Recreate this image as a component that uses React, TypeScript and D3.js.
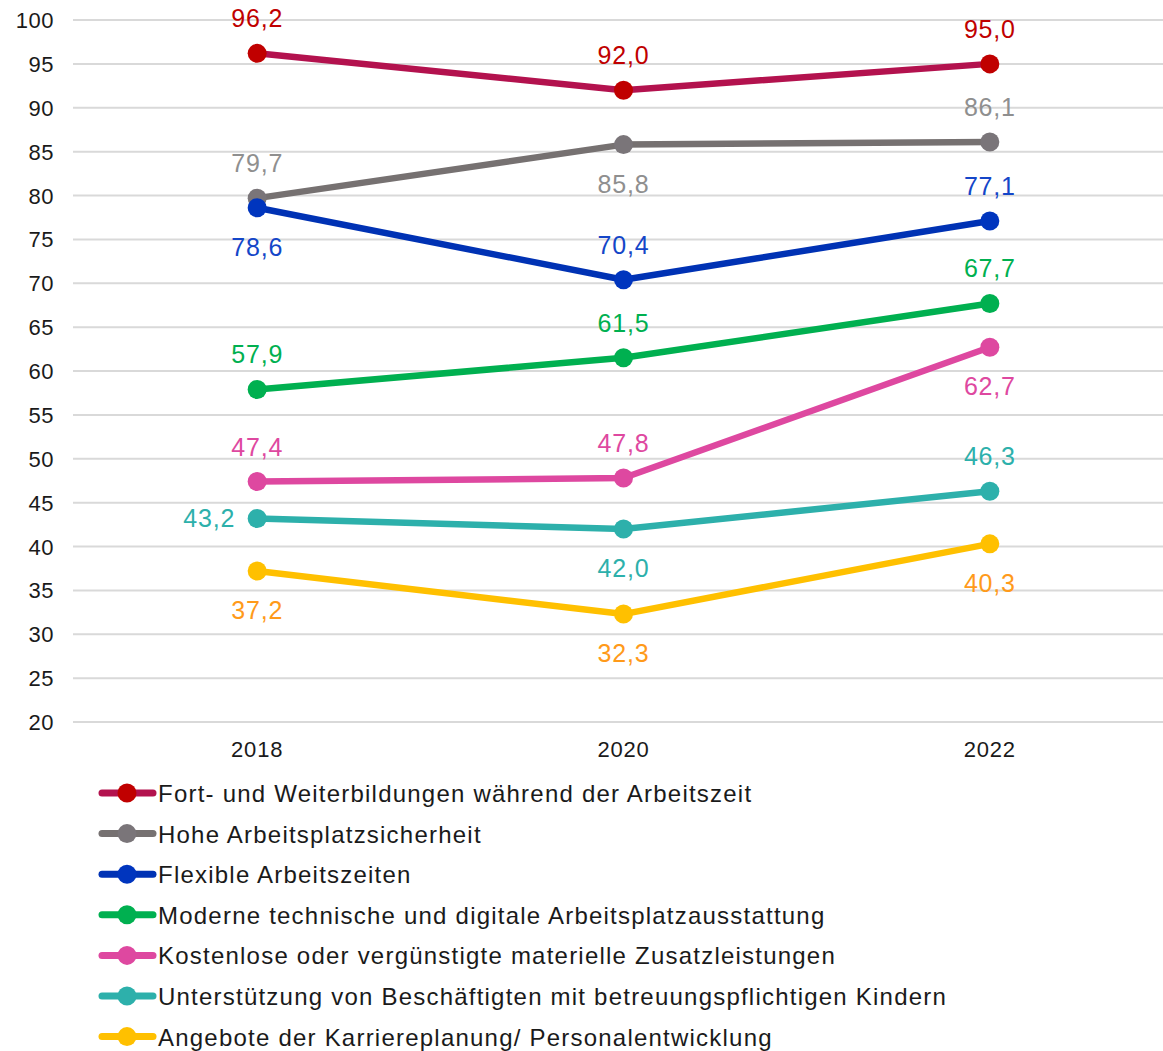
import React from "react";
import * as d3 from "d3";

const years = ["2018", "2020", "2022"];
const yTicks = [20, 25, 30, 35, 40, 45, 50, 55, 60, 65, 70, 75, 80, 85, 90, 95, 100];

const seriesNames = [
  "Fort- und Weiterbildungen während der Arbeitszeit",
  "Hohe Arbeitsplatzsicherheit",
  "Flexible Arbeitszeiten",
  "Moderne technische und digitale Arbeitsplatzausstattung",
  "Kostenlose oder vergünstigte materielle Zusatzleistungen",
  "Unterstützung von Beschäftigten mit betreuungspflichtigen Kindern",
  "Angebote der Karriereplanung/ Personalentwicklung",
];

const fortbildung = [96.2, 92.0, 95.0];
const sicherheit = [79.7, 85.8, 86.1];
const flexibel = [78.6, 70.4, 77.1];
const ausstattung = [57.9, 61.5, 67.7];
const zusatz = [47.4, 47.8, 62.7];
const kinder = [43.2, 42.0, 46.3];
const karriere = [37.2, 32.3, 40.3];

// label placement per point: a = above, b = below, l = left
const placements = [
  ["a", "a", "a"],
  ["a", "b", "a"],
  ["b", "a", "a"],
  ["a", "a", "a"],
  ["a", "a", "b"],
  ["l", "b", "a"],
  ["b", "b", "b"],
];

const lineColors = ["#B3124E", "#767171", "#0032B4", "#00B050", "#DE48A0", "#2DB0AB", "#FFC000"];
const dotColors = ["#C00000", "#7A7579", "#0035BE", "#00B050", "#DE48A0", "#2DB0AB", "#FFC000"];
const labelColors = ["#C00000", "#8F8F8F", "#1446C8", "#00B050", "#DE48A0", "#2DB0AB", "#FF9A1A"];

const values = [fortbildung, sicherheit, flexibel, ausstattung, zusatz, kinder, karriere];

const W = 1163;
const H = 1051;
const font = "'Liberation Sans', Arial, sans-serif";

export default function App() {
  const x = d3.scalePoint<string>().domain(years).range([74, 1173]).padding(0.5);
  const y = d3.scaleLinear().domain([20, 100]).range([722, 20]);
  const line = d3
    .line<number>()
    .x((_, i) => x(years[i]) as number)
    .y((d) => y(d));
  const fmt = (v: number) => v.toFixed(1).replace(".", ",");

  return (
    <svg
      width={W}
      height={H}
      style={{ position: "absolute", left: 0, top: 0, background: "#fff" }}
      fontFamily={font}
    >
      {yTicks.map((t) => (
        <g key={t}>
          <line x1={73} x2={W} y1={y(t)} y2={y(t)} stroke="#D9D9D9" strokeWidth={2} />
          <text x={54} y={y(t) + 8} textAnchor="end" fontSize={22} letterSpacing={0.5} fill="#1a1a1a">
            {t}
          </text>
        </g>
      ))}
      {years.map((yr) => (
        <text key={yr} x={x(yr)} y={757} textAnchor="middle" fontSize={22} letterSpacing={0.8} fill="#1a1a1a">
          {yr}
        </text>
      ))}
      {values.map((vals, s) => (
        <g key={s}>
          <path d={line(vals) || ""} fill="none" stroke={lineColors[s]} strokeWidth={6.5} strokeLinejoin="round" />
          {vals.map((v, i) => (
            <circle key={i} cx={x(years[i])} cy={y(v)} r={9.5} fill={dotColors[s]} />
          ))}
        </g>
      ))}
      {values.map((vals, s) => (
        <g key={"l" + s}>
          {vals.map((v, i) => {
            const p = placements[s][i];
            const cx = x(years[i]) as number;
            const cy = y(v);
            if (p === "l") {
              return (
                <text key={i} x={cx - 22} y={cy + 9} textAnchor="end" fontSize={25} letterSpacing={0.8} fill={labelColors[s]}>
                  {fmt(v)}
                </text>
              );
            }
            return (
              <text
                key={i}
                x={cx}
                y={p === "a" ? cy - 26 : cy + 48}
                textAnchor="middle"
                fontSize={25}
                letterSpacing={0.8}
                fill={labelColors[s]}
              >
                {fmt(v)}
              </text>
            );
          })}
        </g>
      ))}
      {seriesNames.map((name, s) => {
        const ly = 793 + s * 40.6;
        return (
          <g key={"lg" + s}>
            <line x1={102} x2={153} y1={ly} y2={ly} stroke={lineColors[s]} strokeWidth={7} strokeLinecap="round" />
            <circle cx={127} cy={ly} r={9.5} fill={dotColors[s]} />
            <text x={158} y={ly + 9} fontSize={24} letterSpacing={1.22} fill="#1a1a1a">
              {name}
            </text>
          </g>
        );
      })}
    </svg>
  );
}
